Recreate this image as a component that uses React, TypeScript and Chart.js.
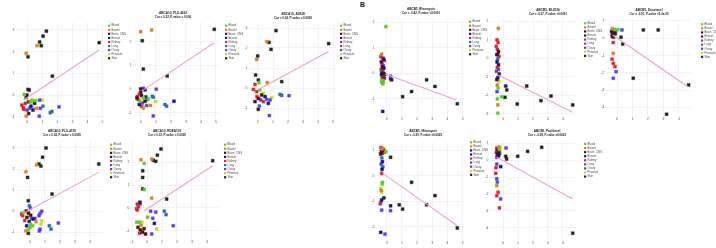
import React, { useEffect, useRef } from "react";
import { Chart, registerables } from "chart.js";
Chart.register(...registerables);

// ---------- data ----------
const tissues = ["Blood", "Bowel", "Brain_CNS", "Breast", "Kidney", "Lung", "Ovary", "Prostate", "Skin"];
const tissueColors = ["#5ccf2a", "#e87a25", "#4a1212", "#15158f", "#e2232b", "#2e6bb5", "#5a3cf0", "#c8d92a", "#1b2a1b"];

type Pt = [number, number, number]; // [tissue index, x, y]

const a1Points: Pt[] = [
  [8, 1.27, 2.94], [8, 1.05, 2.71], [8, 0.82, 2.44], [1, 0.65, 2.27], [8, 0.93, 2.27], [1, -0.07, 1.92],
  [8, 0.05, 1.76], [8, 4.78, 2.41], [8, 1.67, 0.87], [2, 0.05, 0.26], [3, 0.13, 0.23], [2, -0.02, 0.0],
  [0, -0.2, 0.03], [8, -0.07, -0.11], [0, 0.31, -0.23], [0, 0.2, -0.31], [7, 0.42, -0.31], [4, -0.36, -0.46],
  [4, -0.13, -0.38], [2, 0.09, -0.31], [3, 0.24, -0.51], [5, 0.16, -0.61], [4, -0.24, -0.66], [6, -0.02, -0.69],
  [3, 0.38, -0.69], [7, 0.36, -0.58], [6, 0.82, -0.23], [7, 0.98, -0.23], [5, 1.04, -0.51], [6, 0.87, -0.61],
  [6, 0.8, -0.97], [5, 1.53, -0.81], [5, 1.64, -0.75], [6, 2.11, -0.54], [1, -0.07, -0.97], [2, 0.09, -0.85],
  [4, -0.27, -0.57], [3, 0.49, -0.38], [1, 0.62, -0.61], [0, 0.56, -0.26],
];
const a1Line = [[-0.25, -0.23], [4.78, 2.07]];

const a2Points: Pt[] = [
  [8, 4.89, 2.52], [1, -0.02, 2.42], [1, 0.71, 2.49], [8, 0.09, 2.04], [8, 0.16, 0.84], [8, 1.75, 0.55],
  [2, -0.02, 0.0], [6, 0.16, 0.03], [3, 0.27, -0.04], [6, 1.02, -0.01], [4, -0.11, -0.22], [4, -0.24, -0.32],
  [2, 0.04, -0.28], [0, 0.16, -0.38], [3, 0.33, -0.34], [0, 0.49, -0.41], [5, 0.76, -0.31], [5, 0.82, -0.35],
  [7, 0.98, -0.53], [4, -0.18, -0.45], [0, -0.07, -0.52], [6, 0.09, -0.59], [2, 0.27, -0.52], [3, -0.11, -0.66],
  [4, 0.04, -0.73], [1, 0.16, -0.8], [5, 0.38, -0.7], [1, 0.64, -0.7], [3, 2.2, -0.52], [5, 1.6, -0.66],
  [5, 1.71, -0.73], [6, 0.82, -1.14], [2, -0.27, -0.38], [6, 0.42, -0.45], [8, -0.02, -0.15],
];
const a2Line = [[0.07, -0.08], [4.89, 1.95]];

const a3Points: Pt[] = [
  [8, 1.2, 2.87], [1, 0.58, 2.32], [8, 0.73, 2.28], [8, 0.87, 1.93], [8, -0.02, 1.6], [1, -0.09, 1.43],
  [2, -0.16, 0.65], [8, 0.02, 0.4], [8, 1.58, 0.32], [1, 0.62, 0.27], [0, 0.07, 0.27], [4, -0.2, 0.18],
  [4, -0.31, -0.07], [4, -0.09, -0.18], [0, 0.13, -0.1], [2, 0.24, -0.35], [7, 0.36, -0.27], [3, 0.47, -0.43],
  [4, -0.07, -0.43], [2, 0.02, -0.52], [6, 0.18, -0.6], [5, 0.58, -0.57], [6, 0.8, -0.6], [7, 0.91, -0.48],
  [3, 0.69, -0.77], [4, 0.36, -0.68], [5, 0.09, -0.9], [2, -0.2, -0.68], [5, 1.47, -0.32], [5, 1.58, -0.37],
  [6, 2.07, -0.38], [2, 0.02, -1.07], [6, 0.76, -1.38], [8, 4.71, 2.22],
];
const a3Line = [[0.02, -0.07], [4.71, 1.82]];

const a4Points: Pt[] = [
  [8, 1.07, 3.0], [8, 0.84, 2.56], [1, 0.44, 2.2], [8, 0.6, 2.24], [8, 0.73, 2.14], [1, -0.27, 1.87],
  [8, -0.16, 1.6], [8, 4.58, 2.24], [8, 1.47, 0.81], [8, -0.11, 0.49], [5, -0.04, 0.25], [6, 0.02, 0.15],
  [6, 0.78, -0.01], [6, 0.67, -0.12], [6, 0.6, -0.22], [2, -0.25, 0.0], [2, -0.1, -0.1], [2, 0.05, -0.2],
  [2, -0.2, -0.3], [4, -0.56, -0.14], [4, -0.49, -0.22], [0, -0.44, -0.08], [3, 0.22, -0.38], [6, 0.33, -0.35],
  [1, 0.4, -0.51], [7, 0.78, -0.46], [7, 0.73, -0.62], [5, 1.29, -0.7], [5, 1.4, -0.86], [6, 1.89, -0.57],
  [0, 0.04, -0.62], [0, 0.18, -0.7], [0, 0.0, -0.78], [0, -0.11, -0.9], [6, 0.67, -0.86], [6, 0.62, -0.95],
  [1, -0.27, -0.94], [2, -0.11, -1.06], [3, -0.22, -0.7], [4, -0.35, -0.45], [3, -0.05, -0.5], [5, 0.1, -0.35],
];
const a4Line = [[-0.44, -0.11], [4.58, 1.84]];

const a5Points: Pt[] = [
  [8, 0.93, 2.57], [8, 0.69, 2.3], [1, -0.4, 2.1], [1, 0.31, 2.13], [8, 0.42, 2.08], [8, 0.58, 2.03],
  [0, -0.18, 1.94], [8, 4.38, 2.06], [8, -0.29, 1.62], [8, -0.29, 1.33], [8, -0.29, 0.83], [0, -0.18, 0.8],
  [1, 0.31, 0.43], [8, 1.31, 0.39], [4, -0.65, 0.17], [4, -0.47, 0.17], [3, -0.47, 0.25], [5, -0.7, -0.03],
  [4, -0.65, -0.09], [4, -0.58, 0.05], [6, 0.24, -0.14], [6, 0.58, -0.18], [5, 1.15, -0.14], [5, 1.27, -0.29],
  [6, 0.38, -0.45], [0, -0.69, -0.62], [0, -0.51, -0.62], [7, -0.35, -0.62], [0, 0.04, -0.4], [3, 0.49, -0.67],
  [6, 1.75, -0.77], [2, -0.6, -0.84], [8, -0.45, -0.95], [2, -0.3, -1.05], [4, -0.5, -1.1], [8, -0.2, -0.9],
  [2, -0.1, -1.13], [1, -0.4, -0.75], [7, 0.64, -0.91], [6, 0.31, -1.13],
];
const a5Line = [[-0.24, -0.14], [4.38, 1.84]];

const b1Points: Pt[] = [
  [0, -0.05, 1.83], [1, -0.33, 0.75], [4, -0.38, 0.65], [4, -0.25, 0.6], [3, -0.2, 0.55], [5, -0.15, 0.5],
  [2, -0.35, 0.45], [4, -0.3, 0.35], [6, -0.22, 0.3], [3, -0.28, 0.25], [2, -0.18, 0.2], [4, -0.36, 0.15],
  [5, -0.26, 0.1], [8, -0.32, 0.05], [2, -0.2, 0.0], [3, -0.34, -0.05], [6, -0.24, -0.1], [4, -0.3, -0.15],
  [2, -0.16, -0.2], [7, -0.28, -0.25], [0, -0.34, -0.3], [1, -0.22, -0.28], [5, -0.3, -0.35], [0, -0.26, -0.42],
  [7, -0.2, -0.38], [8, -0.12, -0.05], [8, 0.26, -0.22], [8, 0.33, -0.26], [6, 0.26, -0.12], [8, 2.63, -0.26],
  [8, 3.18, -0.52], [8, 1.64, -0.72], [8, 1.05, -0.92], [8, 4.65, -1.2], [3, -0.26, -1.5],
];
const b1Line = [[-0.11, -0.03], [4.61, -1.05]];

const b2Points: Pt[] = [
  [1, -0.31, 1.62], [4, -0.4, 1.0], [4, -0.33, 0.85], [4, -0.45, 0.65], [4, -0.38, 0.48], [2, -0.3, 0.36],
  [3, -0.42, 0.2], [4, -0.27, 0.1], [5, -0.36, -0.05], [3, -0.4, -0.2], [2, -0.3, -0.35], [4, -0.38, -0.5],
  [6, -0.44, -0.7], [2, -0.25, -0.85], [3, -0.35, -1.05], [7, -0.28, -1.25], [1, -0.38, -1.45], [0, -0.33, -1.6],
  [6, -0.4, -1.8], [5, -0.3, -0.6], [8, -0.36, 0.2], [2, -0.42, -1.15], [0, -0.09, -2.08], [0, -0.38, -2.2],
  [1, -0.35, -2.52], [0, -0.35, -2.97], [3, 0.18, -1.5], [8, 0.25, -1.71], [8, 0.13, -2.11], [8, 0.95, -2.47],
  [8, 1.58, -1.5], [8, 2.53, -2.29], [8, 3.2, -2.04], [8, 4.65, -2.52],
];
const b2Line = [[-0.31, -0.9], [4.65, -2.92]];

const b3Points: Pt[] = [
  [1, -0.3, 0.55], [0, -0.15, 0.5], [3, -0.25, 0.45], [2, -0.35, 0.4], [8, -0.2, 0.35], [4, -0.28, 0.3],
  [5, -0.1, 0.42], [6, 0.32, 0.48], [0, 0.05, 0.5], [7, -0.18, 0.52], [2, -0.12, 0.25], [3, -0.3, 0.2],
  [6, -0.22, 0.05], [8, 1.7, 0.48], [8, 2.66, 0.48], [8, 0.26, 0.06], [8, 0.37, -0.33], [4, -0.24, -0.25],
  [1, -0.24, -0.87], [4, -0.32, -1.21], [4, -0.24, -1.45], [4, -0.13, -1.64], [6, -0.06, -1.93], [6, -0.24, -2.31],
  [8, 1.05, -2.31], [8, 4.62, -2.7], [8, 3.2, -4.39], [2, -0.3, 0.1], [3, -0.15, 0.3],
];
const b3Line = [[-0.28, 0.19], [4.62, -2.83]];

const b4Points: Pt[] = [
  [4, -0.38, 1.1], [1, -0.3, 1.05], [2, -0.22, 1.0], [3, -0.35, 0.95], [4, -0.15, 0.92], [0, -0.05, 0.95],
  [8, -0.28, 0.88], [2, -0.4, 0.85], [7, -0.2, 1.08], [8, 0.26, 0.72], [5, -0.32, 0.7], [3, -0.28, 0.55],
  [6, -0.36, 0.45], [5, -0.25, 0.35], [3, -0.3, 0.25], [4, -0.33, 0.09], [0, -0.27, -0.26], [0, -0.3, -0.33],
  [7, -0.38, -0.5], [1, -0.35, -0.58], [7, -0.33, -0.65], [8, -0.18, -0.87], [3, -0.33, -0.95], [5, -0.38, -1.05],
  [4, -0.42, -1.1], [8, 1.64, -0.26], [8, 3.18, -0.78], [8, 0.26, -1.18], [8, 0.83, -1.14], [8, 1.05, -1.31],
  [8, 2.63, -1.14], [8, 4.65, -2.05], [6, -0.33, -1.35], [6, 0.26, -1.37], [3, -0.39, -2.22], [6, -0.11, -2.29],
];
const b4Line = [[-0.26, 0.09], [4.65, -1.96]];

const b5Points: Pt[] = [
  [1, -0.3, 0.75], [7, -0.2, 0.78], [4, -0.42, 0.7], [2, -0.35, 0.65], [3, -0.25, 0.6], [8, -0.4, 0.55],
  [2, -0.3, 0.5], [4, -0.45, 0.45], [5, -0.22, 0.4], [3, -0.38, 0.35], [2, -0.28, 0.28], [8, -0.35, 0.2],
  [6, -0.42, 0.16], [0, -0.25, 0.62], [6, 0.2, 0.71], [8, 0.18, 0.22], [8, 0.24, 0.06], [8, 0.98, 0.22],
  [8, 1.64, 0.51], [8, 2.58, 0.75], [6, -0.42, -0.24], [3, -0.16, -0.39], [4, -0.47, -0.45], [4, -0.49, -0.78],
  [6, -0.42, -1.1], [5, -0.38, -1.3], [1, -0.42, -1.51], [4, -0.33, -1.9], [4, -0.42, -2.1], [6, -0.16, -2.29],
  [4, -0.24, -2.82], [8, 4.65, -4.31],
];
const b5Line = [[-0.42, 0.16], [4.65, -2.29]];

const a2Title = ["ABCA10, PLX-4032", "Cor = 0.32, P-value = 0.006"];
const a3Title = ["ABCA10, AZ628", "Cor = 0.34, P-value = 0.0003"];
const a4Title = ["ABCA10, PLX-4720", "Cor = 0.34, P-value = 0.0005"];
const a5Title = ["ABCA10, RDEA119", "Cor = 0.33, P-value = 0.0005"];
const b1Title = ["ABCB5, Bleomycin", "Cor = -0.42, P-value <0.0001"];
const b2Title = ["ABCB5, BI-2536", "Cor = -0.37, P-value <0.0001"];
const b3Title = ["ABCB5, Docetaxel", "Cor = -0.51, P-value =5.2e-05"];
const b4Title = ["ABCB5, Mitomycin", "Cor = -0.30, P-value =0.0025"];
const b5Title = ["ABCB5, Paclitaxel", "Cor = -0.38, P-value =0.0022"];

// ---------- layout ----------
interface Spec {
  title: string[] | null;
  points: Pt[];
  line: number[][];
  plot: [number, number, number, number];
  xr: [number, number];
  yr: [number, number];
  legend: [number, number];
  titleAt: [number, number];
}

const specs: Spec[] = [
  { title: null, points: a1Points, line: a1Line, plot: [16, 22, 104, 119], xr: [-0.75, 5.1], yr: [-1.1, 3.36], legend: [108, 25.7], titleAt: [60, 14] },
  { title: a2Title, points: a2Points, line: a2Line, plot: [133, 22, 220, 119], xr: [-0.53, 5.27], yr: [-1.27, 2.83], legend: [225, 25.7], titleAt: [173, 13] },
  { title: a3Title, points: a3Points, line: a3Line, plot: [249, 22, 336, 119], xr: [-0.6, 5.2], yr: [-1.55, 3.3], legend: [340, 25.7], titleAt: [293, 14] },
  { title: a4Title, points: a4Points, line: a4Line, plot: [16, 140, 104, 239], xr: [-0.93, 4.93], yr: [-1.33, 3.38], legend: [110, 144.7], titleAt: [62, 131] },
  { title: a5Title, points: a5Points, line: a5Line, plot: [131, 140, 220, 239], xr: [-1.07, 4.87], yr: [-1.35, 2.96], legend: [224, 144.7], titleAt: [167, 131] },
  { title: b1Title, points: b1Points, line: b1Line, plot: [376, 18, 464, 116], xr: [-0.7, 5.09], yr: [-1.68, 2.17], legend: [469, 21.7], titleAt: [421, 9.5] },
  { title: b2Title, points: b2Points, line: b2Line, plot: [490, 18, 576, 116], xr: [-0.87, 4.87], yr: [-3.12, 2.18], legend: [584, 23.3], titleAt: [548, 10] },
  { title: b3Title, points: b3Points, line: b3Line, plot: [606, 18, 692, 116], xr: [-0.71, 4.84], yr: [-4.49, 1.17], legend: [701, 24.3], titleAt: [649, 10] },
  { title: b4Title, points: b4Points, line: b4Line, plot: [376, 142, 464, 240], xr: [-0.7, 5.09], yr: [-2.52, 1.32], legend: [470, 142.3], titleAt: [423, 131] },
  { title: b5Title, points: b5Points, line: b5Line, plot: [490, 140, 576, 240], xr: [-0.87, 4.87], yr: [-4.71, 1.18], legend: [584, 144], titleAt: [547, 131] },
];

const YW = 8;
const XH = 6;
const tickFont = { size: 3.4, family: "'Liberation Sans', Arial, sans-serif" };

function Panel({ spec }: { spec: Spec }) {
  const ref = useRef<HTMLCanvasElement>(null);
  const [pl, pt, pr, pb] = spec.plot;
  const cLeft = pl - 12;
  const cTop = Math.max(0, pt - 18);
  const cRight = Math.max(spec.legend[0] + 20, pr + 2);
  const cBottom = pb + 8;
  const cw = cRight - cLeft;
  const ch = cBottom - cTop;

  useEffect(() => {
    if (!ref.current) return;
    const datasets: any[] = tissues.map((t, i) => ({
      type: "scatter",
      label: t,
      data: spec.points.filter((p) => p[0] === i).map((p) => ({ x: p[1], y: p[2] })),
      backgroundColor: tissueColors[i],
      borderColor: tissueColors[i],
      borderWidth: 0.4,
      pointStyle: "rect",
      pointRadius: 2.1,
      order: 1,
    }));
    datasets.push({
      type: "line",
      label: "fit",
      data: spec.line.map((p) => ({ x: p[0], y: p[1] })),
      borderColor: "#f4a3c4",
      borderWidth: 1.1,
      pointRadius: 0,
      fill: false,
      order: 0,
    });

    const decor = {
      id: "decor",
      afterDraw(chart: any) {
        const ctx = chart.ctx as CanvasRenderingContext2D;
        ctx.save();
        if (spec.title) {
          ctx.fillStyle = "#1a1a1a";
          ctx.textAlign = "center";
          ctx.textBaseline = "middle";
          ctx.font = "bold 3.1px 'Liberation Sans', Arial, sans-serif";
          ctx.fillText(spec.title[0], spec.titleAt[0] - cLeft, spec.titleAt[1] - cTop);
          ctx.font = "bold 2.9px 'Liberation Sans', Arial, sans-serif";
          ctx.fillText(spec.title[1], spec.titleAt[0] - cLeft, spec.titleAt[1] + 3.8 - cTop);
        }
        const lx = spec.legend[0] - cLeft;
        const ly = spec.legend[1] - cTop;
        ctx.textAlign = "left";
        ctx.textBaseline = "middle";
        ctx.font = "2.9px 'Liberation Sans', Arial, sans-serif";
        tissues.forEach((t, i) => {
          const y = ly + i * 4.07;
          ctx.fillStyle = tissueColors[i];
          ctx.fillRect(lx, y - 1.1, 2.2, 2.2);
          ctx.fillStyle = "#4a4a4a";
          ctx.fillText(t, lx + 3.6, y);
        });
        ctx.restore();
      },
    };

    const chart = new Chart(ref.current, {
      type: "scatter",
      data: { datasets },
      options: {
        responsive: false,
        animation: false,
        devicePixelRatio: 1,
        layout: {
          padding: {
            left: pl - cLeft - YW,
            top: pt - cTop,
            right: cRight - pr,
            bottom: cBottom - pb - XH,
          },
        },
        scales: {
          x: {
            type: "linear",
            min: spec.xr[0],
            max: spec.xr[1],
            afterFit: (s: any) => { s.height = XH; },
            ticks: { stepSize: 1, includeBounds: false, autoSkip: false, maxRotation: 0, padding: 1, font: tickFont, color: "#555" },
            grid: { color: "#ebebeb", lineWidth: 0.6, drawTicks: false },
            border: { display: false },
          },
          y: {
            type: "linear",
            min: spec.yr[0],
            max: spec.yr[1],
            afterFit: (s: any) => { s.width = YW; },
            ticks: { stepSize: 1, includeBounds: false, autoSkip: false, padding: 1.5, font: tickFont, color: "#555" },
            grid: { color: "#ebebeb", lineWidth: 0.6, drawTicks: false },
            border: { display: false },
          },
        },
        plugins: {
          legend: { display: false },
          title: { display: false },
          tooltip: { enabled: false },
        },
      } as any,
      plugins: [decor],
    });
    return () => chart.destroy();
  }, []);

  return (
    <canvas
      ref={ref}
      width={cw}
      height={ch}
      style={{ position: "absolute", left: cLeft, top: cTop, width: cw, height: ch }}
    />
  );
}

export default function App() {
  return (
    <div style={{ position: "absolute", left: 0, top: 0, width: 716, height: 248, overflow: "hidden", background: "#fff" }}>
      {specs.map((s, i) => (
        <Panel key={i} spec={s} />
      ))}
      <div style={{ position: "absolute", left: 360, top: 1, fontFamily: "'Liberation Sans', Arial, sans-serif", fontWeight: "bold", fontSize: 7, lineHeight: "8px", color: "#111" }}>
        B
      </div>
    </div>
  );
}
